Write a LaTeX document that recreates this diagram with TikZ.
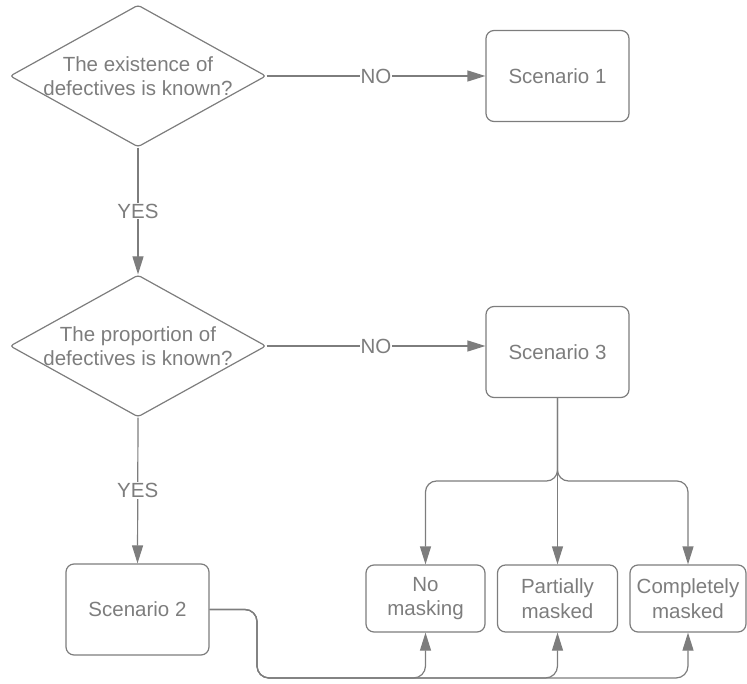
\documentclass[tikz,border=0pt]{standalone}
\usepackage{fontspec}
\setmainfont{Liberation Sans}
\usetikzlibrary{shapes.geometric,arrows.meta}
\definecolor{flowgray}{RGB}{125,125,125}

\begin{document}
\begin{tikzpicture}[x=1pt, y=-1pt,
    every node/.style={text=flowgray, font=\fontsize{20.5}{24.5}\selectfont, align=center},
    question/.style={draw=flowgray, line width=1.2pt, diamond, minimum width=256pt, minimum height=142pt, inner sep=0pt, rounded corners=3pt},
    scenario/.style={draw=flowgray, line width=1.2pt, rounded corners=8pt, minimum width=143pt, minimum height=91pt},
    masking/.style={draw=flowgray, line width=1.2pt, rounded corners=8pt, minimum height=67pt, inner sep=2pt},
    flow/.style={draw=flowgray, line width=1.2pt, -{Triangle[length=18pt,width=11pt]}},
    answer/.style={fill=white, inner sep=1pt}]
    \useasboundingbox (0,0) rectangle (747,684);

    % questions
    \node[question] (q1) at (138,76) {};
    \node (q1txt) at (q1.center) {The existence of\\defectives is known?};
    \node[question] (q2) at (138,346) {};
    \node (q2txt) at (q2.center) {The proportion of\\defectives is known?};

    % scenarios
    \node[scenario] (s1) at (557.5,76) {Scenario 1};
    \node[scenario] (s3) at (557.5,352) {Scenario 3};
    \node[scenario] (s2) at (137.5,609.5) {Scenario 2};

    % masking cases
    \node[masking, minimum width=119pt] (nomask) at (425.5,598.5) {No\\masking};
    \node[masking, minimum width=120pt] (partial) at (557.5,598.5) {Partially\\masked};
    \node[masking, minimum width=116pt] (complete) at (688,598.5) {Completely\\masked};

    % answers
    \draw[flow] (q1.east) -- node[answer] {NO} (s1.west);
    \draw[flow] (q1.south) -- node[answer] {YES} (q2.north);
    \draw[flow] (q2.east) -- node[answer] {NO} (q2.east -| s3.west);
    \draw[flow] (q2.south) -- node[answer] {YES} (s2.north);

    % scenario 3 split
    \coordinate (split) at (557.5,481);
    \draw[flow] (s3.south) -- (partial.north);
    \draw[flow, rounded corners=11pt] (s3.south) -- (split) -- (split -| nomask.north) -- (nomask.north);
    \draw[flow, rounded corners=11pt] (s3.south) -- (split) -- (split -| complete.north) -- (complete.north);

    % scenario 2 bus
    \coordinate (bus) at (257,678);
    \draw[flow, rounded corners=12pt] (s2.east) -| (bus) -- (bus -| nomask.south) -- (nomask.south);
    \draw[flow, rounded corners=12pt] (s2.east) -| (bus) -- (bus -| partial.south) -- (partial.south);
    \draw[flow, rounded corners=12pt] (s2.east) -| (bus) -- (bus -| complete.south) -- (complete.south);
\end{tikzpicture}
\end{document}
